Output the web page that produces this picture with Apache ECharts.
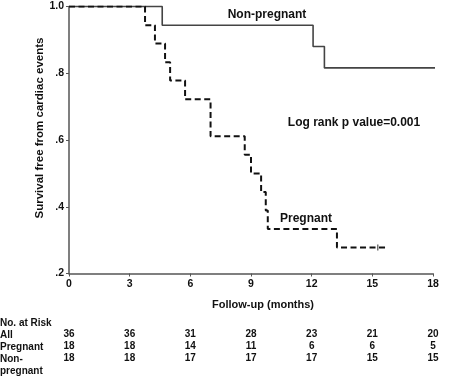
<!DOCTYPE html>
<html><head><meta charset="utf-8">
<script src="https://cdn.jsdelivr.net/npm/echarts@6/dist/echarts.min.js"></script>
<style>html,body{margin:0;padding:0;background:#fff}#c{width:474px;height:376px}</style>
</head><body><div id="c"></div>
<script>
const FONT = '"Liberation Sans", Arial, Helvetica, sans-serif';
const nonPregTime = [0, 4.61, 12.07, 12.63, 18.5];
const nonPregSurv = [1.0, 0.944, 0.88, 0.816, 0.816];
const pregTime = [0, 3.76, 4.25, 4.75, 5.0, 5.74, 7.0, 8.69, 9.0, 9.5, 9.73, 9.83, 13.25, 15.63];
const pregSurv = [1.0, 0.944, 0.889, 0.833, 0.778, 0.722, 0.611, 0.556, 0.5, 0.444, 0.389, 0.333, 0.278, 0.278];
const pregCensorTime = [15.27];
const pregCensorSurv = [0.278];
const riskTimes = [0, 3, 6, 9, 12, 15, 18];
const riskAll = [36, 36, 31, 28, 23, 21, 20];
const riskPreg = [18, 18, 14, 11, 6, 6, 5];
const riskNonPreg = [18, 18, 17, 17, 17, 15, 15];
const yTicks = ['.2', '.4', '.6', '.8', '1.0'];

const chart = echarts.init(document.getElementById('c'));
const zip = (a, b) => a.map((v, i) => [v, b[i]]);
function riskAxis(arr, offset) {
  return {
    type: 'value', min: 0, max: 18, interval: 3, position: 'bottom', offset: offset,
    axisLine: {show: false}, axisTick: {show: false}, splitLine: {show: false},
    axisLabel: {margin: 0, color: '#111', fontFamily: FONT, fontWeight: 'bold', fontSize: 10,
      formatter: v => { const i = riskTimes.indexOf(Math.round(v)); return i >= 0 ? String(arr[i]) : ''; }}
  };
}
chart.setOption({
  animation: false,
  grid: {left: 69, right: 41, top: 6.5, bottom: 102.5},
  xAxis: [
    {type: 'value', min: 0, max: 18, interval: 3,
     axisLine: {lineStyle: {color: '#555', width: 1.5}},
     axisTick: {length: 3, lineStyle: {color: '#555'}},
     splitLine: {show: false},
     axisLabel: {margin: 5, color: '#111', fontFamily: FONT, fontWeight: 'bold', fontSize: 10.5}},
    riskAxis(riskAll, 55.5),
    riskAxis(riskPreg, 67.5),
    riskAxis(riskNonPreg, 79.5)
  ],
  yAxis: {type: 'value', min: 0.2, max: 1.0, interval: 0.2,
    axisLine: {show: true, lineStyle: {color: '#555', width: 1.5}},
    axisTick: {show: true, length: 3, lineStyle: {color: '#555'}},
    splitLine: {show: false},
    axisLabel: {margin: 5, color: '#111', fontFamily: FONT, fontWeight: 'bold', fontSize: 10.5,
      formatter: v => yTicks[Math.round((v - 0.2) / 0.2)]}},
  series: [
    {type: 'line', name: 'Non-pregnant', step: 'end', symbol: 'none', clip: false,
     data: zip(nonPregTime, nonPregSurv), lineStyle: {color: '#444', width: 1.6}},
    {type: 'line', name: 'Pregnant', step: 'end', symbol: 'none',
     data: zip(pregTime, pregSurv), lineStyle: {color: '#111', width: 2, type: [6, 3.5]}},
    {type: 'scatter', symbol: 'rect', symbolSize: [1.3, 6], itemStyle: {color: '#333'},
     data: zip(pregCensorTime, pregCensorSurv)}
  ],
  graphic: [
    {type: 'text', x: 40, y: 128, rotation: Math.PI / 2, style: {text: 'Survival free from cardiac events', align: 'center', verticalAlign: 'middle', font: 'bold 11.5px ' + FONT, fill: '#111'}},
    {type: 'text', x: 267, y: 15, style: {text: 'Non-pregnant', align: 'center', verticalAlign: 'middle', font: 'bold 12px ' + FONT, fill: '#111'}},
    {type: 'text', x: 354, y: 122.5, style: {text: 'Log rank p value=0.001', align: 'center', verticalAlign: 'middle', font: 'bold 12px ' + FONT, fill: '#111'}},
    {type: 'text', x: 306, y: 218.5, style: {text: 'Pregnant', align: 'center', verticalAlign: 'middle', font: 'bold 12px ' + FONT, fill: '#111'}},
    {type: 'text', x: 263, y: 305, style: {text: 'Follow-up (months)', align: 'center', verticalAlign: 'middle', font: 'bold 11px ' + FONT, fill: '#111'}},
    {type: 'text', x: 0, y: 323, style: {text: 'No. at Risk', align: 'left', verticalAlign: 'middle', font: 'bold 10px ' + FONT, fill: '#111'}},
    {type: 'text', x: 0, y: 335, style: {text: 'All', align: 'left', verticalAlign: 'middle', font: 'bold 10px ' + FONT, fill: '#111'}},
    {type: 'text', x: 0, y: 347, style: {text: 'Pregnant', align: 'left', verticalAlign: 'middle', font: 'bold 10px ' + FONT, fill: '#111'}},
    {type: 'text', x: 0, y: 359, style: {text: 'Non-', align: 'left', verticalAlign: 'middle', font: 'bold 10px ' + FONT, fill: '#111'}},
    {type: 'text', x: 0, y: 371, style: {text: 'pregnant', align: 'left', verticalAlign: 'middle', font: 'bold 10px ' + FONT, fill: '#111'}}
  ]
});
</script></body></html>
